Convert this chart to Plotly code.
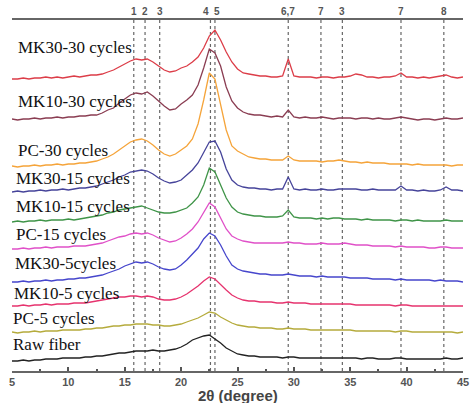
import plotly.graph_objects as go

# 2-theta sampling (degrees)
two_theta = [
    5.0, 5.5, 6.0, 6.5, 7.0, 7.5, 8.0, 8.5, 9.0, 9.5,
    10.0, 10.5, 11.0, 11.5, 12.0, 12.5, 13.0, 13.5, 14.0, 14.5,
    15.0, 15.5, 16.0, 16.5, 17.0, 17.5, 18.0, 18.5, 19.0, 19.5,
    20.0, 20.5, 21.0, 21.5, 22.0, 22.5, 23.0, 23.5, 24.0, 24.5,
    25.0, 25.5, 26.0, 26.5, 27.0, 27.5, 28.0, 28.5, 29.0, 29.5,
    30.0, 30.5, 31.0, 31.5, 32.0, 32.5, 33.0, 33.5, 34.0, 34.5,
    35.0, 35.5, 36.0, 36.5, 37.0, 37.5, 38.0, 38.5, 39.0, 39.5,
    40.0, 40.5, 41.0, 41.5, 42.0, 42.5, 43.0, 43.5, 44.0, 44.5,
    45.0,
]

# Stacked diffraction intensities (a.u.)
mk30_30 = [
    292, 292, 293, 292, 293, 293, 294, 293, 294, 293,
    294, 295, 294, 295, 296, 296, 297, 299, 301, 304,
    307, 310, 312, 311, 312, 309, 305, 301, 299, 300,
    303, 305, 309, 314, 323, 335, 341, 331, 319, 309,
    302, 298, 297, 296, 295, 295, 294, 294, 295, 312,
    295, 294, 294, 294, 293, 294, 294, 293, 294, 294,
    295, 297, 296, 294, 294, 293, 294, 294, 295, 298,
    294, 294, 293, 294, 293, 294, 295, 296, 294, 293,
    294,
]
mk10_30 = [
    252, 251, 252, 252, 253, 252, 253, 253, 254, 253,
    254, 254, 255, 255, 256, 256, 258, 261, 263, 268,
    272, 276, 278, 277, 279, 275, 270, 265, 261, 262,
    267, 271, 276, 286, 303, 322, 318, 305, 284, 270,
    263, 259, 257, 256, 256, 255, 254, 255, 254, 261,
    254, 253, 254, 253, 253, 254, 253, 252, 253, 253,
    253, 252, 253, 253, 252, 253, 252, 252, 253, 254,
    253, 252, 251, 252, 252, 251, 252, 253, 252, 252,
    253,
]
pc_30 = [
    205, 204, 205, 205, 206, 205, 206, 206, 207, 206,
    207, 207, 208, 208, 209, 210, 212, 214, 217, 221,
    225, 229, 231, 232, 230, 226, 221, 217, 215, 217,
    221, 225, 232, 247, 271, 298, 292, 266, 241, 225,
    220, 217, 214, 213, 212, 212, 211, 211, 211, 215,
    211, 210, 210, 210, 210, 209, 210, 210, 211, 210,
    209, 209, 208, 209, 208, 208, 208, 207, 207, 207,
    207, 206, 207, 206, 206, 206, 206, 206, 205, 206,
    206,
]
mk30_15 = [
    179, 180, 179, 180, 180, 181, 180, 181, 181, 182,
    181, 182, 183, 183, 184, 185, 187, 189, 191, 194,
    196, 199, 200, 201, 200, 197, 193, 190, 188, 189,
    191, 196, 201, 208, 219, 229, 230, 219, 202, 191,
    186, 184, 183, 183, 182, 182, 181, 182, 182, 194,
    182, 181, 182, 181, 181, 182, 181, 181, 182, 182,
    182, 182, 181, 181, 182, 181, 181, 181, 181, 185,
    181, 181, 180, 181, 180, 180, 181, 184, 181, 181,
    180,
]
mk10_15 = [
    149, 150, 149, 150, 150, 151, 150, 151, 151, 151,
    152, 151, 152, 153, 154, 155, 156, 158, 159, 161,
    162, 163, 164, 165, 163, 161, 159, 158, 158, 159,
    161, 163, 168, 174, 186, 203, 199, 186, 173, 164,
    159, 157, 156, 155, 155, 154, 154, 154, 155, 161,
    154, 153, 153, 153, 152, 153, 152, 153, 153, 152,
    152, 152, 151, 152, 151, 151, 151, 151, 150, 151,
    151, 150, 151, 150, 150, 150, 150, 151, 150, 150,
    150,
]
pc_15 = [
    122, 122, 123, 122, 123, 123, 124, 123, 124, 124,
    124, 125, 125, 125, 126, 127, 128, 130, 132, 134,
    135, 137, 138, 137, 138, 136, 133, 131, 129, 130,
    133, 137, 142, 149, 159, 168, 164, 153, 142, 135,
    132, 130, 129, 128, 128, 128, 128, 128, 128, 129,
    128, 128, 127, 127, 127, 128, 127, 127, 127, 128,
    127, 126, 126, 126, 125, 125, 125, 125, 124, 125,
    124, 124, 124, 124, 123, 123, 124, 124, 123, 123,
    123,
]
mk30_5 = [
    89, 89, 90, 89, 90, 90, 91, 90, 91, 91,
    92, 92, 93, 93, 94, 95, 96, 98, 100, 102,
    105, 107, 109, 108, 109, 107, 104, 102, 101, 102,
    106, 111, 117, 123, 132, 138, 135, 126, 115, 106,
    102, 100, 99, 98, 97, 97, 96, 96, 96, 97,
    96, 95, 95, 95, 94, 95, 94, 94, 94, 94,
    93, 93, 93, 93, 92, 92, 92, 92, 91, 92,
    91, 91, 91, 91, 91, 90, 91, 90, 90, 90,
    89,
]
mk10_5 = [
    65, 65, 66, 65, 66, 66, 67, 66, 67, 67,
    67, 68, 68, 68, 69, 70, 71, 72, 73, 74,
    74, 75, 75, 74, 75, 74, 72, 71, 71, 72,
    74, 77, 81, 85, 90, 94, 92, 87, 81, 76,
    73, 71, 70, 70, 69, 69, 69, 68, 68, 69,
    68, 68, 68, 67, 67, 67, 67, 67, 67, 67,
    67, 66, 66, 66, 66, 66, 66, 66, 65, 66,
    66, 65, 65, 65, 65, 65, 65, 65, 65, 65,
    65,
]
pc_5 = [
    39, 38, 39, 39, 40, 39, 40, 40, 40, 41,
    41, 41, 41, 42, 42, 43, 43, 44, 45, 45,
    46, 46, 47, 47, 47, 46, 46, 45, 45, 46,
    47, 49, 51, 53, 56, 59, 58, 54, 51, 48,
    46, 45, 44, 44, 43, 43, 43, 42, 42, 43,
    42, 42, 42, 41, 41, 41, 41, 41, 41, 41,
    41, 40, 40, 40, 40, 40, 40, 40, 39, 40,
    40, 39, 39, 39, 39, 39, 39, 39, 39, 38,
    39,
]
raw_fiber = [
    10, 10, 11, 10, 11, 11, 12, 12, 12, 13,
    13, 13, 13, 14, 14, 15, 15, 16, 17, 18,
    18, 19, 20, 20, 20, 21, 20, 20, 21, 22,
    24, 27, 31, 33, 35, 36, 32, 28, 23, 20,
    17, 16, 15, 15, 14, 14, 14, 14, 13, 14,
    14, 13, 13, 13, 13, 13, 13, 13, 13, 13,
    13, 13, 12, 13, 13, 12, 12, 12, 13, 13,
    12, 12, 12, 12, 12, 12, 12, 13, 12, 12,
    13,
]

sample_names = [
    "MK30-30 cycles", "MK10-30 cycles", "PC-30 cycles", "MK30-15 cycles",
    "MK10-15 cycles", "PC-15 cycles", "MK30-5cycles", "MK10-5 cycles",
    "PC-5 cycles", "Raw fiber",
]
sample_series = [mk30_30, mk10_30, pc_30, mk30_15, mk10_15, pc_15,
                 mk30_5, mk10_5, pc_5, raw_fiber]

# Reference peak positions (2-theta) and their phase labels
peak_positions = [15.8, 16.8, 18.1, 22.6, 23.0, 29.5, 32.4, 34.3, 39.5, 43.3]
peak_labels = ["1", "2", "3", "4", "5", "6,7", "7", "3", "7", "8"]

tick_values = [5, 10, 15, 20, 25, 30, 35, 40, 45]
tick_text = ["5", "10", "15", "20", "25", "30", "35", "40", "45"]

# Styling
line_colors = ["#dc3d48", "#8a3d52", "#f5a43a", "#46449a", "#3f9448",
               "#e050c8", "#4646cc", "#e6336e", "#b5ab3c", "#222222"]
label_pos = [  # (paper x, intensity y) for each curve label
    (0.008, 323.5), (0.008, 269.5), (0.008, 220.5), (0.004, 192.5),
    (0.004, 165), (0.004, 136.5), (0.002, 107.5), (0.0, 77.5),
    (-0.003, 52.5), (-0.003, 26.5),
]
peak_label_x = [15.8, 16.8, 18.1, 22.25, 23.2, 29.5, 32.4, 34.3, 39.5, 43.3]

fig = go.Figure()

for name, ys, color in zip(sample_names, sample_series, line_colors):
    fig.add_trace(go.Scatter(
        x=two_theta, y=ys, mode="lines", name=name,
        line=dict(color=color, width=1.3), showlegend=False,
    ))

for pos in peak_positions:
    fig.add_shape(type="line", xref="x", yref="paper", x0=pos, x1=pos,
                  y0=0, y1=1, line=dict(color="#666666", width=1.2, dash="dot"),
                  layer="below")

for lx, text in zip(peak_label_x, peak_labels):
    fig.add_annotation(x=lx, y=1, xref="x", yref="paper", text=f"<b>{text}</b>",
                       showarrow=False, yanchor="bottom", yshift=1,
                       font=dict(family="Liberation Sans", size=10, color="#555555"))

for (px, py), text in zip(label_pos, sample_names):
    fig.add_annotation(x=px, y=py, xref="paper", yref="y", text=text,
                       showarrow=False, xanchor="left", yanchor="middle",
                       font=dict(family="Liberation Serif", size=17, color="#111111"))

fig.add_annotation(x=0.5, y=0, xref="paper", yref="paper", text="<b>2θ (degree)</b>",
                   showarrow=False, xanchor="center", yanchor="top", yshift=-14,
                   font=dict(family="Liberation Sans", size=15, color="#444444"))

fig.update_layout(
    width=470, height=403,
    margin=dict(l=12, r=7, t=20, b=32, autoexpand=False),
    paper_bgcolor="white", plot_bgcolor="white",
    xaxis=dict(
        range=[5, 45], tickvals=tick_values,
        ticktext=[f"<b>{t}</b>" for t in tick_text],
        automargin=False,
        showline=True, linecolor="#666666", linewidth=1.5, mirror=True,
        ticks="inside", ticklen=4, tickwidth=1.5, tickcolor="#555555",
        minor=dict(ticks="inside", ticklen=2, tickwidth=1.5,
                   tickcolor="#555555", dtick=2.5, tick0=5),
        tickfont=dict(family="Liberation Sans", size=11, color="#555555"),
        showgrid=False, zeroline=False,
    ),
    yaxis=dict(range=[0, 351], visible=False, automargin=False),
)

fig.write_html("out.html")
